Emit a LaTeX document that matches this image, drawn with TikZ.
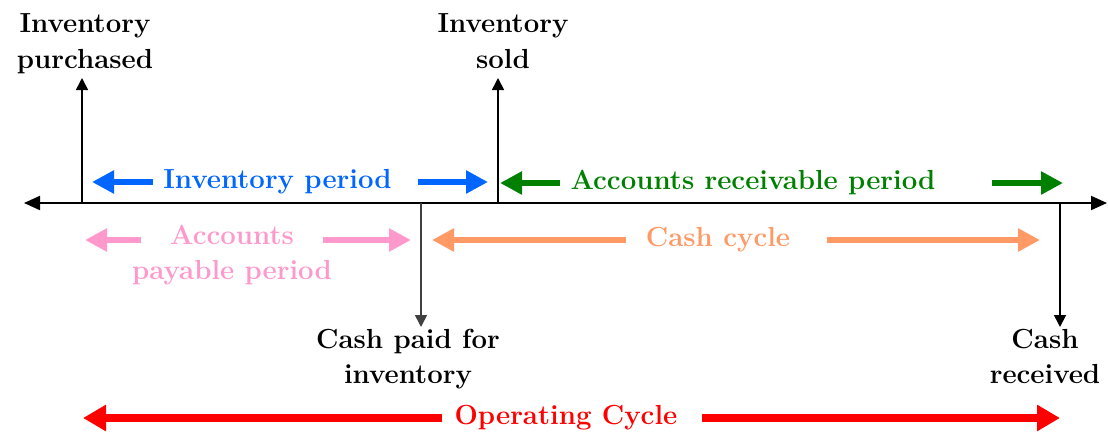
\documentclass[tikz,border=0pt]{standalone}
\usepackage{tikz}
\usetikzlibrary{arrows.meta}
\definecolor{invblue}{HTML}{0066FF}
\definecolor{recgreen}{HTML}{008000}
\definecolor{paypink}{HTML}{FF99CC}
\definecolor{cashor}{HTML}{FF9966}
\definecolor{opred}{HTML}{FF0000}

\begin{document}
\begin{tikzpicture}[x=0.5pt,y=-0.5pt,
  lbl/.style={font=\fontsize{13.8}{17.5}\selectfont\bfseries,align=center,inner sep=0pt},
  fat/.style={line width=3.4pt,-{Triangle[length=11pt,width=11pt]}},
  tick/.style={line width=0.8pt,-{Triangle[length=6pt,width=6pt]}}]
  \useasboundingbox (0,0) rectangle (1108,439);
  % time line
  \coordinate (tl) at (24,203);
  \coordinate (tr) at (1107,203);
  \draw[line width=1pt,{Triangle[length=8pt,width=7pt]}-{Triangle[length=8pt,width=7pt]}] (tl) -- (tr);
  % events on the line
  \coordinate (pur) at (82,203);
  \coordinate (sold) at (498,203);
  \coordinate (paid) at (421,203);
  \coordinate (recv) at (1060,203);
  \coordinate (purtip) at (82,78);
  \coordinate (soldtip) at (498,78);
  \coordinate (paidtip) at (421,327);
  \coordinate (recvtip) at (1060,327);
  \draw[tick] (pur) -- (purtip);
  \draw[tick] (sold) -- (soldtip);
  \draw[tick,black!75] (paid) -- (paidtip);
  \draw[tick] (recv) -- (recvtip);
  % base = last line
  \node[lbl,anchor=base] (purlbl) at (85,68) {Inventory\\purchased};
  \node[lbl,anchor=base] (soldlbl) at (503,68) {Inventory\\sold};
  \node[lbl,anchor=base] (paidlbl) at (408,383) {Cash paid for\\inventory};
  \node[lbl,anchor=base] (recvlbl) at (1045,383) {Cash\\received};
  % periods
  \node[lbl,invblue] (invp) at (277.5,182) {Inventory period};
  \draw[fat,invblue] ([xshift=-5pt]invp.west) -- ([xshift=5pt]invp.west -| pur);
  \draw[fat,invblue] ([xshift=13pt]invp.east) -- ([xshift=-5pt]invp.east -| sold);
  \node[lbl,recgreen] (recp) at (753,183) {Accounts receivable period};
  \draw[fat,recgreen] ([xshift=-5pt]recp.west) -- ([xshift=1pt]recp.west -| sold);
  \draw[fat,recgreen] ([xshift=28pt]recp.east) -- ([xshift=1.5pt]recp.east -| recv);
  \node[lbl,paypink,anchor=base] (payp) at (232,279) {Accounts\\payable period};
  \coordinate (payl) at (141,240);
  \coordinate (payr) at (323,240);
  \draw[fat,paypink] (payl) -- ([xshift=1.5pt]payl -| pur);
  \draw[fat,paypink] (payr) -- ([xshift=-5pt]payr -| paid);
  \node[lbl,cashor] (cashc) at (718,240) {Cash cycle};
  \draw[fat,cashor] ([xshift=-10pt]cashc.west) -- ([xshift=5.5pt]cashc.west -| paid);
  \draw[fat,cashor] ([xshift=18pt]cashc.east) -- ([xshift=-10pt]cashc.east -| recv);
  \node[lbl,opred] (opc) at (566,418) {Operating Cycle};
  \draw[fat,opred,line width=3.8pt,-{Triangle[length=11.5pt,width=12.5pt]}] ([xshift=-6pt]opc.west) -- ([xshift=0.5pt]opc.west -| pur);
  \draw[fat,opred,line width=3.8pt,-{Triangle[length=11.5pt,width=12.5pt]}] ([xshift=12pt]opc.east) -- (opc.east -| recv);
\end{tikzpicture}
\end{document}
